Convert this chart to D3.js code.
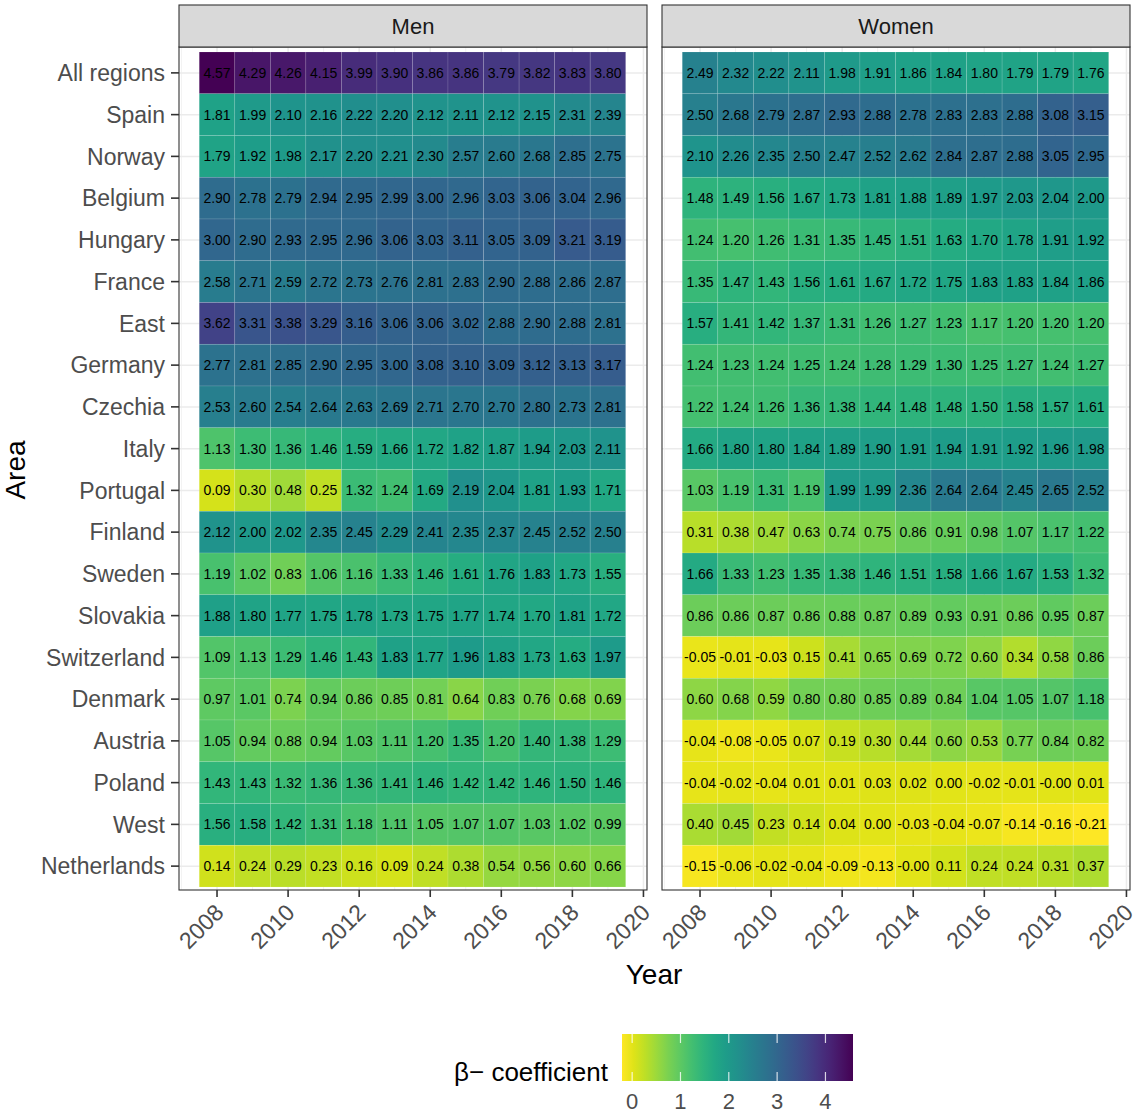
<!DOCTYPE html>
<html>
<head>
<meta charset="utf-8">
<style>
  body { margin: 0; background: #fff; }
  text { font-family: "Liberation Sans", Arial, sans-serif; }
</style>
</head>
<body></body>
<script src="https://cdn.jsdelivr.net/npm/d3@7"></script>
<script>

// rows top to bottom
const areas = ["All regions", "Spain", "Norway", "Belgium", "Hungary", "France", "East",
  "Germany", "Czechia", "Italy", "Portugal", "Finland", "Sweden", "Slovakia",
  "Switzerland", "Denmark", "Austria", "Poland", "West", "Netherlands"];

const years = [2008, 2009, 2010, 2011, 2012, 2013, 2014, 2015, 2016, 2017, 2018, 2019];
const yearTicks = [2008, 2010, 2012, 2014, 2016, 2018, 2020];
const panels = ["Men", "Women"];

// beta coefficients, one row per area, one column per year
const men = [
  [4.57, 4.29, 4.26, 4.15, 3.99, 3.90, 3.86, 3.86, 3.79, 3.82, 3.83, 3.80],
  [1.81, 1.99, 2.10, 2.16, 2.22, 2.20, 2.12, 2.11, 2.12, 2.15, 2.31, 2.39],
  [1.79, 1.92, 1.98, 2.17, 2.20, 2.21, 2.30, 2.57, 2.60, 2.68, 2.85, 2.75],
  [2.90, 2.78, 2.79, 2.94, 2.95, 2.99, 3.00, 2.96, 3.03, 3.06, 3.04, 2.96],
  [3.00, 2.90, 2.93, 2.95, 2.96, 3.06, 3.03, 3.11, 3.05, 3.09, 3.21, 3.19],
  [2.58, 2.71, 2.59, 2.72, 2.73, 2.76, 2.81, 2.83, 2.90, 2.88, 2.86, 2.87],
  [3.62, 3.31, 3.38, 3.29, 3.16, 3.06, 3.06, 3.02, 2.88, 2.90, 2.88, 2.81],
  [2.77, 2.81, 2.85, 2.90, 2.95, 3.00, 3.08, 3.10, 3.09, 3.12, 3.13, 3.17],
  [2.53, 2.60, 2.54, 2.64, 2.63, 2.69, 2.71, 2.70, 2.70, 2.80, 2.73, 2.81],
  [1.13, 1.30, 1.36, 1.46, 1.59, 1.66, 1.72, 1.82, 1.87, 1.94, 2.03, 2.11],
  [0.09, 0.30, 0.48, 0.25, 1.32, 1.24, 1.69, 2.19, 2.04, 1.81, 1.93, 1.71],
  [2.12, 2.00, 2.02, 2.35, 2.45, 2.29, 2.41, 2.35, 2.37, 2.45, 2.52, 2.50],
  [1.19, 1.02, 0.83, 1.06, 1.16, 1.33, 1.46, 1.61, 1.76, 1.83, 1.73, 1.55],
  [1.88, 1.80, 1.77, 1.75, 1.78, 1.73, 1.75, 1.77, 1.74, 1.70, 1.81, 1.72],
  [1.09, 1.13, 1.29, 1.46, 1.43, 1.83, 1.77, 1.96, 1.83, 1.73, 1.63, 1.97],
  [0.97, 1.01, 0.74, 0.94, 0.86, 0.85, 0.81, 0.64, 0.83, 0.76, 0.68, 0.69],
  [1.05, 0.94, 0.88, 0.94, 1.03, 1.11, 1.20, 1.35, 1.20, 1.40, 1.38, 1.29],
  [1.43, 1.43, 1.32, 1.36, 1.36, 1.41, 1.46, 1.42, 1.42, 1.46, 1.50, 1.46],
  [1.56, 1.58, 1.42, 1.31, 1.18, 1.11, 1.05, 1.07, 1.07, 1.03, 1.02, 0.99],
  [0.14, 0.24, 0.29, 0.23, 0.16, 0.09, 0.24, 0.38, 0.54, 0.56, 0.60, 0.66]
];

const women = [
  [2.49, 2.32, 2.22, 2.11, 1.98, 1.91, 1.86, 1.84, 1.80, 1.79, 1.79, 1.76],
  [2.50, 2.68, 2.79, 2.87, 2.93, 2.88, 2.78, 2.83, 2.83, 2.88, 3.08, 3.15],
  [2.10, 2.26, 2.35, 2.50, 2.47, 2.52, 2.62, 2.84, 2.87, 2.88, 3.05, 2.95],
  [1.48, 1.49, 1.56, 1.67, 1.73, 1.81, 1.88, 1.89, 1.97, 2.03, 2.04, 2.00],
  [1.24, 1.20, 1.26, 1.31, 1.35, 1.45, 1.51, 1.63, 1.70, 1.78, 1.91, 1.92],
  [1.35, 1.47, 1.43, 1.56, 1.61, 1.67, 1.72, 1.75, 1.83, 1.83, 1.84, 1.86],
  [1.57, 1.41, 1.42, 1.37, 1.31, 1.26, 1.27, 1.23, 1.17, 1.20, 1.20, 1.20],
  [1.24, 1.23, 1.24, 1.25, 1.24, 1.28, 1.29, 1.30, 1.25, 1.27, 1.24, 1.27],
  [1.22, 1.24, 1.26, 1.36, 1.38, 1.44, 1.48, 1.48, 1.50, 1.58, 1.57, 1.61],
  [1.66, 1.80, 1.80, 1.84, 1.89, 1.90, 1.91, 1.94, 1.91, 1.92, 1.96, 1.98],
  [1.03, 1.19, 1.31, 1.19, 1.99, 1.99, 2.36, 2.64, 2.64, 2.45, 2.65, 2.52],
  [0.31, 0.38, 0.47, 0.63, 0.74, 0.75, 0.86, 0.91, 0.98, 1.07, 1.17, 1.22],
  [1.66, 1.33, 1.23, 1.35, 1.38, 1.46, 1.51, 1.58, 1.66, 1.67, 1.53, 1.32],
  [0.86, 0.86, 0.87, 0.86, 0.88, 0.87, 0.89, 0.93, 0.91, 0.86, 0.95, 0.87],
  [-0.05, -0.01, -0.03, 0.15, 0.41, 0.65, 0.69, 0.72, 0.60, 0.34, 0.58, 0.86],
  [0.60, 0.68, 0.59, 0.80, 0.80, 0.85, 0.89, 0.84, 1.04, 1.05, 1.07, 1.18],
  [-0.04, -0.08, -0.05, 0.07, 0.19, 0.30, 0.44, 0.60, 0.53, 0.77, 0.84, 0.82],
  [-0.04, -0.02, -0.04, 0.01, 0.01, 0.03, 0.02, 0.00, -0.02, -0.01, -0.001, 0.01],
  [0.40, 0.45, 0.23, 0.14, 0.04, 0.00, -0.03, -0.04, -0.07, -0.14, -0.16, -0.21],
  [-0.15, -0.06, -0.02, -0.04, -0.09, -0.13, -0.001, 0.11, 0.24, 0.24, 0.31, 0.37]
];

const legendTicks = [0, 1, 2, 3, 4];

const W = 1136, H = 1117;
const svg = d3.select("body").append("svg")
    .attr("width", W).attr("height", H);

// long format for the tiles
function cells(matrix) {
  const out = [];
  matrix.forEach((row, i) => row.forEach((v, j) => out.push({area: areas[i], year: years[j], value: v})));
  return out;
}
const panelData = [cells(men), cells(women)];

const all = men.flat().concat(women.flat());
const color = d3.scaleSequential(t => d3.interpolateViridis(1 - t))
    .domain(d3.extent(all));

const stripTop = 5, panelTop = 47, panelBottom = 890;
const panelX = [[179, 647], [662, 1130]];

const y = d3.scaleBand().domain(areas).range([52, 887]);

const fmt = v => v.toFixed(2);

panels.forEach((name, p) => {
  const [x0, x1] = panelX[p];
  const x = d3.scaleLinear().domain([2006.93, 2020.1]).range([x0, x1]);
  const g = svg.append("g");

  g.append("rect").attr("x", x0).attr("y", panelTop)
    .attr("width", x1 - x0).attr("height", panelBottom - panelTop)
    .attr("fill", "#fff");

  // grid lines (theme_bw)
  g.selectAll(".vminor").data(d3.range(2007, 2021, 2)).enter().append("line")
    .attr("x1", d => x(d)).attr("x2", d => x(d))
    .attr("y1", panelTop).attr("y2", panelBottom)
    .attr("stroke", "#f3f3f3").attr("stroke-width", 1);
  g.selectAll(".vmajor").data(yearTicks).enter().append("line")
    .attr("x1", d => x(d)).attr("x2", d => x(d))
    .attr("y1", panelTop).attr("y2", panelBottom)
    .attr("stroke", "#ebebeb").attr("stroke-width", 1.5);
  g.selectAll(".hmajor").data(areas).enter().append("line")
    .attr("x1", x0).attr("x2", x1)
    .attr("y1", d => y(d) + y.bandwidth() / 2).attr("y2", d => y(d) + y.bandwidth() / 2)
    .attr("stroke", "#ebebeb").attr("stroke-width", 1.5);

  // tiles
  g.selectAll(".tile").data(panelData[p]).enter().append("rect")
    .attr("x", d => x(d.year - 0.5)).attr("width", d => x(d.year + 0.5) - x(d.year - 0.5))
    .attr("y", d => y(d.area)).attr("height", y.bandwidth())
    .attr("fill", d => color(d.value))
    .attr("stroke", "#fff").attr("stroke-opacity", 0.2).attr("stroke-width", 0.6);

  g.selectAll(".lab").data(panelData[p]).enter().append("text")
    .attr("x", d => x(d.year)).attr("y", d => y(d.area) + y.bandwidth() / 2)
    .attr("dy", "0.36em").attr("text-anchor", "middle")
    .attr("font-size", 14).attr("fill", "#000")
    .text(d => fmt(d.value));

  // panel border
  g.append("rect").attr("x", x0).attr("y", panelTop)
    .attr("width", x1 - x0).attr("height", panelBottom - panelTop)
    .attr("fill", "none").attr("stroke", "#333").attr("stroke-width", 1.1);

  // strip
  g.append("rect").attr("x", x0).attr("y", stripTop)
    .attr("width", x1 - x0).attr("height", panelTop - stripTop)
    .attr("fill", "#d9d9d9").attr("stroke", "#333").attr("stroke-width", 1.1);
  g.append("text").attr("x", (x0 + x1) / 2).attr("y", (stripTop + panelTop) / 2)
    .attr("dy", "0.36em").attr("text-anchor", "middle")
    .attr("font-size", 22).attr("fill", "#1a1a1a").text(name);

  // x axis
  g.selectAll(".xt").data(yearTicks).enter().append("line")
    .attr("x1", d => x(d)).attr("x2", d => x(d))
    .attr("y1", panelBottom).attr("y2", panelBottom + 7)
    .attr("stroke", "#333").attr("stroke-width", 1.6);
  g.selectAll(".xl").data(yearTicks).enter().append("text")
    .attr("transform", d => `translate(${x(d) + 8},${panelBottom + 24}) rotate(-45)`)
    .attr("text-anchor", "end").attr("font-size", 23).attr("fill", "#4d4d4d")
    .text(d => d);
});

// y axis on the left panel
svg.selectAll(".yt").data(areas).enter().append("line")
  .attr("x1", 171).attr("x2", 179)
  .attr("y1", d => y(d) + y.bandwidth() / 2).attr("y2", d => y(d) + y.bandwidth() / 2)
  .attr("stroke", "#333").attr("stroke-width", 1.6);
svg.selectAll(".yl").data(areas).enter().append("text")
  .attr("x", 165).attr("y", d => y(d) + y.bandwidth() / 2)
  .attr("dy", "0.36em").attr("text-anchor", "end")
  .attr("font-size", 23).attr("fill", "#4d4d4d").text(d => d);

// axis titles
svg.append("text").attr("x", 654).attr("y", 984).attr("text-anchor", "middle")
  .attr("font-size", 28).attr("fill", "#000").text("Year");
svg.append("text").attr("transform", "translate(25,470) rotate(-90)")
  .attr("text-anchor", "middle").attr("font-size", 28).attr("fill", "#000").text("Area");

// colour bar legend
const lx = d3.scaleLinear().domain(color.domain()).range([622, 853]);
const defs = svg.append("defs");
const grad = defs.append("linearGradient").attr("id", "cbar");
d3.range(0, 1.0001, 0.05).forEach(t => {
  grad.append("stop").attr("offset", t)
    .attr("stop-color", color(color.domain()[0] + t * (color.domain()[1] - color.domain()[0])));
});
svg.append("rect").attr("x", 622).attr("y", 1034).attr("width", 231).attr("height", 47)
  .attr("fill", "url(#cbar)");
legendTicks.forEach(t => {
  svg.append("line").attr("x1", lx(t)).attr("x2", lx(t)).attr("y1", 1034).attr("y2", 1043)
    .attr("stroke", "#fff").attr("stroke-opacity", 0.8).attr("stroke-width", 1.2);
  svg.append("line").attr("x1", lx(t)).attr("x2", lx(t)).attr("y1", 1072).attr("y2", 1081)
    .attr("stroke", "#fff").attr("stroke-opacity", 0.8).attr("stroke-width", 1.2);
});
svg.selectAll(".lt").data(legendTicks).enter().append("text")
  .attr("x", d => lx(d)).attr("y", 1109).attr("text-anchor", "middle")
  .attr("font-size", 22).attr("fill", "#4d4d4d").text(d => d);
svg.append("text").attr("x", 608).attr("y", 1081).attr("text-anchor", "end")
  .attr("font-size", 26).attr("fill", "#000").text("β− coefficient");

</script>
</html>
